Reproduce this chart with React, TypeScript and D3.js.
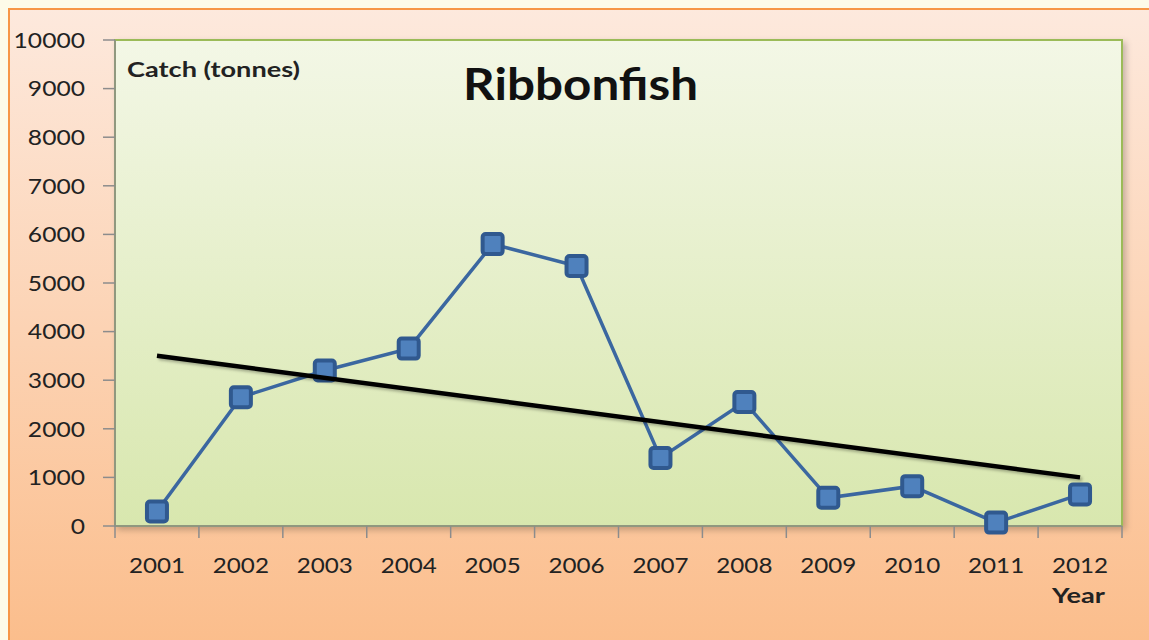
import React from "react";
import * as d3 from "d3";

const years = ["2001","2002","2003","2004","2005","2006","2007","2008","2009","2010","2011","2012"];
const catchValues = [300, 2650, 3200, 3650, 5800, 5350, 1400, 2550, 580, 820, 70, 650];
const yTicks = [0, 1000, 2000, 3000, 4000, 5000, 6000, 7000, 8000, 9000, 10000];

const W = 1149, H = 640;
const plot = { left: 115, right: 1122, top: 40, bottom: 526 };
const FONT = "Lato, 'Open Sans', sans-serif";

export default function App() {
  const x = d3.scaleBand<string>().domain(years).range([plot.left, plot.right]);
  const y = d3.scaleLinear().domain([0, 10000]).range([plot.bottom, plot.top]);
  const cx = (d: string) => (x(d) as number) + x.bandwidth() / 2;

  const line = d3.line<number>().x((_, i) => cx(years[i])).y((v) => y(v));

  // linear trend (least squares)
  const idx = catchValues.map((_, i) => i + 1);
  const mx = d3.mean(idx) as number;
  const my = d3.mean(catchValues) as number;
  const sxy = d3.sum(idx, (xi, i) => (xi - mx) * (catchValues[i] - my));
  const sxx = d3.sum(idx, (xi) => (xi - mx) ** 2);
  const slope = sxy / sxx;
  const trend = (xi: number) => my + slope * (xi - mx);
  const t0 = trend(1), t1 = trend(12);

  const tickXs = d3.range(years.length + 1).map((i) => plot.left + i * x.step());
  const sx = (tx: number, ty: number, k: number) => `translate(${tx},${ty}) scale(${k},1)`;

  return (
    <svg width={W} height={H} style={{ position: "absolute", left: 0, top: 0 }}>
      <defs>
        <linearGradient id="outerG" x1="0" y1="0" x2="0" y2="1">
          <stop offset="0%" stopColor="#fde9dd" />
          <stop offset="100%" stopColor="#fbbd8b" />
        </linearGradient>
        <linearGradient id="plotG" x1="0" y1="0" x2="0" y2="1">
          <stop offset="0%" stopColor="#f3f7e6" />
          <stop offset="100%" stopColor="#d8e7ae" />
        </linearGradient>
        <filter id="sh" x="-5%" y="-5%" width="110%" height="115%">
          <feDropShadow dx="3" dy="3" stdDeviation="3" floodColor="#000" floodOpacity="0.22" />
        </filter>
        <filter id="lsh" x="-5%" y="-20%" width="110%" height="140%">
          <feDropShadow dx="2" dy="2" stdDeviation="1.5" floodColor="#000" floodOpacity="0.3" />
        </filter>
      </defs>
      <rect x={0} y={0} width={W} height={H} fill="#fdfbe8" />
      <rect x={9} y={9} width={W} height={H} fill="url(#outerG)" stroke="#f79646" strokeWidth={2} />
      <rect x={plot.left} y={plot.top} width={plot.right - plot.left} height={plot.bottom - plot.top}
        fill="url(#plotG)" stroke="#9bbb59" strokeWidth={2} filter="url(#sh)" />
      {/* axes */}
      <line x1={plot.left} x2={plot.left} y1={plot.top} y2={plot.bottom} stroke="#8c8c8c" strokeWidth={1.5} />
      <line x1={plot.left} x2={plot.right} y1={plot.bottom} y2={plot.bottom} stroke="#8c8c8c" strokeWidth={1.5} />
      {yTicks.map((t) => (
        <g key={t}>
          <line x1={plot.left - 12} x2={plot.left} y1={y(t)} y2={y(t)} stroke="#8c8c8c" strokeWidth={1.5} />
          <text transform={sx(85, y(t), 1.12)} dy="0.35em" textAnchor="end" fontSize={22} fontFamily={FONT} fill="#222">{t}</text>
        </g>
      ))}
      {tickXs.map((tx, i) => (
        <line key={i} x1={tx} x2={tx} y1={plot.bottom} y2={plot.bottom + 12} stroke="#8c8c8c" strokeWidth={1.5} />
      ))}
      {years.map((yr) => (
        <text key={yr} transform={sx(cx(yr), 565, 1.1)} dy="0.35em" textAnchor="middle" fontSize={22} fontFamily={FONT} fill="#222">{yr}</text>
      ))}
      {/* series */}
      <path d={line(catchValues) as string} fill="none" stroke="#3b67a0" strokeWidth={3.5} />
      {catchValues.map((v, i) => (
        <rect key={i} x={cx(years[i]) - 10} y={y(v) - 10} width={20} height={20} rx={3}
          fill="#4f81bd" stroke="#30598f" strokeWidth={4} />
      ))}
      {/* trend */}
      <line x1={cx(years[0])} y1={y(t0)} x2={cx(years[11])} y2={y(t1)} stroke="#000" strokeWidth={4.5} filter="url(#lsh)" />
      {/* texts */}
      <text x={463} y={100} textLength={235} lengthAdjust="spacingAndGlyphs" fontSize={44} fontWeight="bold" fontFamily={FONT} fill="#111">Ribbonfish</text>
      <text x={127} y={77} textLength={173} lengthAdjust="spacingAndGlyphs" fontSize={20} fontWeight="bold" fontFamily={FONT} fill="#222">Catch (tonnes)</text>
      <text x={1052} y={603} textLength={53} lengthAdjust="spacingAndGlyphs" fontSize={21} fontWeight="bold" fontFamily={FONT} fill="#222">Year</text>
    </svg>
  );
}
